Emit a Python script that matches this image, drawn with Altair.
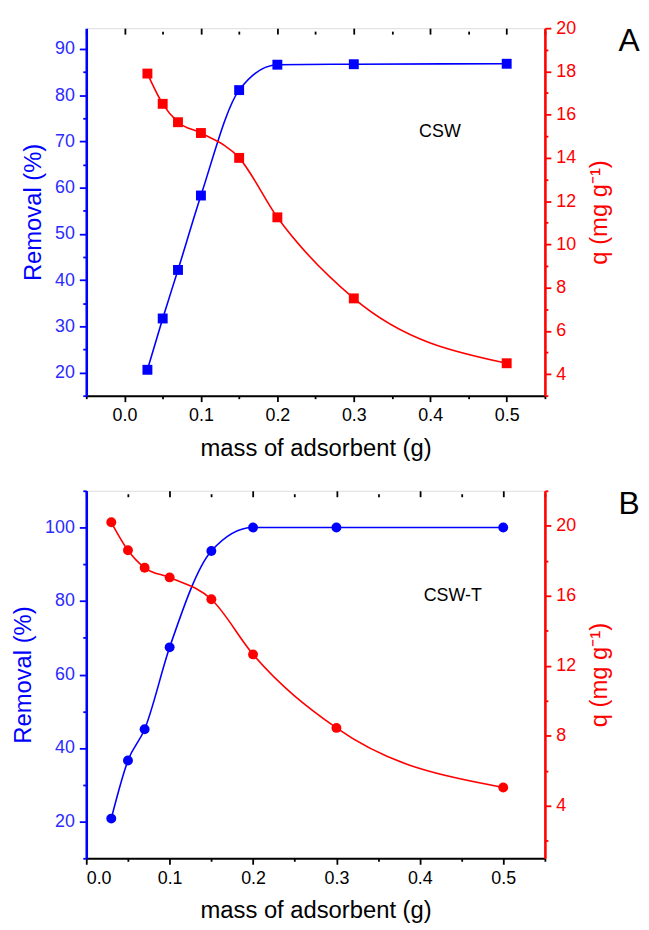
import altair as alt
import pandas as pd

# ---- data ----
mass = [0.03, 0.05, 0.07, 0.10, 0.15, 0.20, 0.30, 0.50]
removal_csw = [20.6, 31.7, 42.2, 58.3, 81.1, 86.6, 86.7, 86.8]
q_csw = [17.9, 16.5, 15.65, 15.15, 14.0, 11.25, 7.5, 4.5]
removal_cswt = [20.8, 36.6, 45.1, 67.4, 93.6, 100.0, 100.0, 100.0]
q_cswt = [20.2, 18.6, 17.6, 17.05, 15.8, 12.65, 8.45, 5.05]

x_ticks_a = [-0.05, 0.0, 0.05, 0.1, 0.15, 0.2, 0.25, 0.3, 0.35, 0.4, 0.45, 0.5, 0.55]
x_ticks_b = [0.0, 0.05, 0.1, 0.15, 0.2, 0.25, 0.3, 0.35, 0.4, 0.45, 0.5, 0.55]
yl_ticks_a = [15, 20, 25, 30, 35, 40, 45, 50, 55, 60, 65, 70, 75, 80, 85, 90]
yr_ticks_a = [3, 4, 5, 6, 7, 8, 9, 10, 11, 12, 13, 14, 15, 16, 17, 18, 19, 20]
yl_ticks_b = [10, 20, 30, 40, 50, 60, 70, 80, 90, 100, 110]
yr_ticks_b = [2, 4, 6, 8, 10, 12, 14, 16, 18, 20, 22]

BLUE = "#0000ff"
LBLUE = "#2b2bff"
RED = "#ff0000"
FONT = "Liberation Sans"
W, H = 463, 371
TICK_FS = 18
TITLE_FS = 24

X_MAJOR = "abs(round(datum.value*20)) % 2 == 0"


def tsize(test, major, minor):
    return {"condition": {"test": test, "value": major}, "value": minor}


def panel(rem, q, shape, xdom, xticks, yldom, ylticks, yl_major,
          yrdom, yrticks, yr_major, note, note_xy, letter, letter_xy):
    df = pd.DataFrame({"mass": mass, "removal": rem, "q": q})
    xs = alt.Scale(domain=xdom, nice=False, zero=False)
    x_bot = alt.X("mass:Q", scale=xs, axis=alt.Axis(
        values=xticks, labelExpr=f"{X_MAJOR} ? format(datum.value, '.1f') : ''",
        title="mass of adsorbent (g)", orient="bottom",
        domainColor="black", domainWidth=2, tickColor="black", tickWidth=1.8,
        tickSize=tsize(X_MAJOR, 6, 3), labelColor="black", labelFontSize=TICK_FS,
        labelPadding=5, titleFontSize=TITLE_FS, titleFontWeight="normal",
        titlePadding=12, titleColor="black", grid=False, labelFont=FONT,
        titleFont=FONT))
    x_top = alt.X("mass:Q", scale=xs, axis=alt.Axis(
        values=xticks, labels=False, title=None, orient="top", offset=-6,
        domain=False, tickColor="black", tickWidth=1.8,
        tickSize=tsize(X_MAJOR, 6, 3), grid=False))
    yl = alt.Y("removal:Q", scale=alt.Scale(domain=yldom, nice=False, zero=False),
               axis=alt.Axis(values=ylticks,
                             labelExpr=f"{yl_major} ? datum.label : ''",
                             title="Removal (%)", orient="left",
                             domainColor=BLUE, domainWidth=2.6,
                             tickColor=BLUE, tickWidth=1.8,
                             tickSize=tsize(yl_major, 7, 3.5),
                             labelColor=LBLUE, labelFontSize=TICK_FS, labelPadding=5,
                             titleColor=BLUE, titleFontSize=TITLE_FS,
                             titleFontWeight="normal", titlePadding=9,
                             grid=False, labelFont=FONT, titleFont=FONT))
    yr = alt.Y("q:Q", scale=alt.Scale(domain=yrdom, nice=False, zero=False),
               axis=alt.Axis(values=yrticks,
                             labelExpr=f"{yr_major} ? datum.label : ''",
                             title="q (mg g⁻¹)", orient="right", titleAngle=270,
                             titleBaseline="top",
                             domainColor=RED, domainWidth=2.6,
                             tickColor=RED, tickWidth=1.8,
                             tickSize=tsize(yr_major, 6, 3),
                             labelColor=RED, labelFontSize=TICK_FS, labelPadding=5,
                             titleColor=RED, titleFontSize=TITLE_FS,
                             titleFontWeight="normal", titlePadding=12,
                             grid=False, labelFont=FONT, titleFont=FONT))
    base = alt.Chart(df)
    left = alt.layer(
        base.mark_line(interpolate="monotone", color=BLUE, strokeWidth=1.6).encode(x=x_bot, y=yl),
        base.mark_point(shape=shape, filled=True, size=100, opacity=1, color=BLUE).encode(x=x_bot, y=yl),
        alt.Chart(pd.DataFrame({"t": [note]})).mark_text(
            font=FONT, fontSize=18, color="black", align="center", baseline="middle"
        ).encode(text="t:N", x=alt.value(note_xy[0]), y=alt.value(note_xy[1])),
    )
    right = alt.layer(
        base.mark_line(interpolate="monotone", color=RED, strokeWidth=1.6).encode(x=x_top, y=yr),
        base.mark_point(shape=shape, filled=True, size=100, opacity=1, color=RED).encode(x=x_top, y=yr),
        alt.Chart(pd.DataFrame({"t": [letter]})).mark_text(
            font=FONT, fontSize=32, color="black", align="center", baseline="middle"
        ).encode(text="t:N", x=alt.value(letter_xy[0]), y=alt.value(letter_xy[1])),
    )
    return alt.layer(left, right).resolve_scale(y="independent", x="independent").properties(
        width=W, height=H)


pa = panel(removal_csw, q_csw, "square", [-0.05, 0.55], x_ticks_a, [15, 94.5], yl_ticks_a,
           "datum.value % 10 == 0", [3, 20], yr_ticks_a,
           "datum.value % 2 == 0", "CSW", (357, 105), "A", (548, 13))
pb = panel(removal_cswt, q_cswt, "circle", [0.0, 0.55], x_ticks_b, [10, 110], yl_ticks_b,
           "datum.value % 20 == 0", [1, 22], yr_ticks_b,
           "datum.value % 4 == 0", "CSW-T", (370, 106), "B", (548, 13))

chart = alt.vconcat(pa, pb, spacing=26).properties(
    padding={"left": 3, "top": 6, "right": 0, "bottom": 0}
).configure_view(stroke="black", strokeWidth=2).configure(background="white")

chart.save("out.html", embed_options={"renderer": "svg", "actions": False})
